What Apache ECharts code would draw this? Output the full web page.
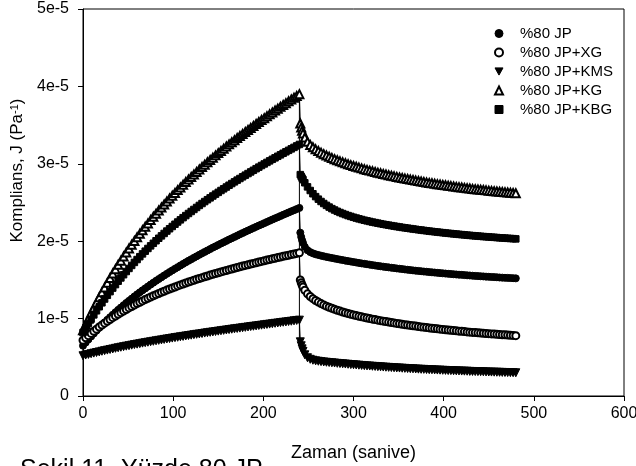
<!DOCTYPE html>
<html><head><meta charset="utf-8">
<script src="https://cdn.jsdelivr.net/npm/echarts@6/dist/echarts.min.js"></script>
<style>html,body{margin:0;padding:0;background:#fff;}#c{width:636px;height:466px;}</style>
</head><body><div id="c"></div>
<script>
// Compliance values are in units of 1e-5 Pa^-1, time in seconds
const UNIT = 1e-5;
const seriesNames = ['%80 JP', '%80 JP+XG', '%80 JP+KMS', '%80 JP+KG', '%80 JP+KBG'];
const xTicks = [0, 100, 200, 300, 400, 500, 600];
const yTicks = [0, 1, 2, 3, 4, 5];

const creepTime = [0,3,6,9,12,15,18,21,24,27,30,33,36,39,42,45,48,51,54,57,60,63,66,69,72,75,78,81,84,87,90,93,96,99,102,105,108,111,114,117,120,123,126,129,132,135,138,141,144,147,150,153,156,159,162,165,168,171,174,177,180,183,186,189,192,195,198,201,204,207,210,213,216,219,222,225,228,231,234,237,240];
const recoveryTime = [241,242,243,244,246,249,252,255,258,261,264,267,270,273,276,279,282,285,288,291,294,297,300,303,306,309,312,315,318,321,324,327,330,333,336,339,342,345,348,351,354,357,360,363,366,369,372,375,378,381,384,387,390,393,396,399,402,405,408,411,414,417,420,423,426,429,432,435,438,441,444,447,450,453,456,459,462,465,468,471,474,477,480];

const jpCreep = [0.650,0.691,0.731,0.770,0.808,0.845,0.881,0.917,0.951,0.985,1.018,1.050,1.082,1.113,1.143,1.173,1.202,1.230,1.258,1.286,1.313,1.339,1.365,1.390,1.415,1.440,1.464,1.488,1.511,1.534,1.557,1.579,1.601,1.623,1.644,1.665,1.686,1.707,1.727,1.747,1.766,1.786,1.805,1.824,1.843,1.862,1.880,1.898,1.917,1.934,1.952,1.970,1.987,2.004,2.022,2.038,2.055,2.072,2.089,2.105,2.122,2.138,2.154,2.170,2.186,2.202,2.217,2.233,2.249,2.264,2.280,2.295,2.310,2.325,2.341,2.356,2.371,2.386,2.400,2.415,2.430];
const jpRecovery = [2.110,2.055,2.012,1.978,1.928,1.884,1.859,1.843,1.831,1.822,1.813,1.805,1.797,1.790,1.783,1.776,1.769,1.762,1.756,1.749,1.743,1.737,1.731,1.725,1.719,1.713,1.708,1.702,1.697,1.691,1.686,1.681,1.676,1.671,1.666,1.662,1.657,1.653,1.648,1.644,1.640,1.635,1.631,1.627,1.623,1.619,1.616,1.612,1.608,1.605,1.601,1.598,1.595,1.591,1.588,1.585,1.582,1.579,1.576,1.573,1.570,1.567,1.565,1.562,1.559,1.557,1.554,1.552,1.549,1.547,1.545,1.542,1.540,1.538,1.536,1.534,1.531,1.529,1.527,1.526,1.524,1.522,1.520];

const xgCreep = [0.720,0.751,0.780,0.809,0.837,0.864,0.891,0.916,0.941,0.965,0.989,1.012,1.034,1.056,1.077,1.098,1.118,1.138,1.157,1.175,1.194,1.211,1.229,1.246,1.262,1.278,1.294,1.309,1.325,1.339,1.354,1.368,1.382,1.395,1.409,1.422,1.435,1.447,1.460,1.472,1.484,1.495,1.507,1.518,1.529,1.540,1.551,1.562,1.572,1.582,1.593,1.603,1.613,1.622,1.632,1.641,1.651,1.660,1.669,1.678,1.687,1.696,1.705,1.713,1.722,1.731,1.739,1.747,1.756,1.764,1.772,1.780,1.788,1.796,1.804,1.812,1.819,1.827,1.835,1.842,1.850];
const xgRecovery = [1.500,1.464,1.434,1.408,1.366,1.320,1.286,1.258,1.234,1.213,1.194,1.177,1.161,1.147,1.133,1.120,1.108,1.097,1.086,1.076,1.066,1.056,1.048,1.039,1.031,1.023,1.015,1.008,1.000,0.993,0.987,0.980,0.973,0.967,0.961,0.955,0.949,0.944,0.938,0.933,0.927,0.922,0.917,0.912,0.907,0.903,0.898,0.893,0.889,0.885,0.880,0.876,0.872,0.868,0.864,0.860,0.856,0.852,0.849,0.845,0.842,0.838,0.835,0.832,0.828,0.825,0.822,0.819,0.816,0.813,0.810,0.808,0.805,0.802,0.800,0.797,0.794,0.792,0.790,0.787,0.785,0.783,0.780];

const kmsCreep = [0.520,0.529,0.537,0.546,0.554,0.562,0.570,0.578,0.586,0.593,0.601,0.608,0.616,0.623,0.630,0.637,0.644,0.650,0.657,0.664,0.670,0.676,0.683,0.689,0.695,0.701,0.707,0.713,0.719,0.725,0.731,0.737,0.742,0.748,0.754,0.759,0.765,0.770,0.776,0.781,0.786,0.792,0.797,0.802,0.807,0.813,0.818,0.823,0.828,0.833,0.838,0.843,0.848,0.853,0.858,0.863,0.868,0.873,0.877,0.882,0.887,0.892,0.897,0.901,0.906,0.911,0.915,0.920,0.925,0.929,0.934,0.939,0.943,0.948,0.953,0.957,0.962,0.966,0.971,0.976,0.980];
const kmsRecovery = [0.700,0.649,0.609,0.577,0.532,0.494,0.474,0.462,0.454,0.449,0.444,0.440,0.436,0.433,0.429,0.426,0.422,0.419,0.416,0.413,0.410,0.406,0.404,0.401,0.398,0.395,0.392,0.389,0.387,0.384,0.382,0.379,0.377,0.374,0.372,0.370,0.368,0.365,0.363,0.361,0.359,0.357,0.355,0.353,0.351,0.349,0.347,0.345,0.344,0.342,0.340,0.339,0.337,0.335,0.334,0.332,0.331,0.329,0.328,0.326,0.325,0.324,0.322,0.321,0.320,0.318,0.317,0.316,0.315,0.314,0.313,0.311,0.310,0.309,0.308,0.307,0.306,0.305,0.304,0.303,0.302,0.301,0.300];

const kgCreep = [0.850,0.926,0.999,1.071,1.141,1.209,1.275,1.340,1.403,1.464,1.524,1.582,1.639,1.695,1.749,1.802,1.854,1.905,1.954,2.003,2.050,2.097,2.142,2.187,2.230,2.273,2.315,2.356,2.397,2.436,2.475,2.513,2.551,2.588,2.624,2.660,2.695,2.730,2.764,2.797,2.830,2.863,2.895,2.927,2.958,2.989,3.019,3.049,3.079,3.109,3.138,3.166,3.195,3.223,3.251,3.278,3.305,3.332,3.359,3.386,3.412,3.438,3.464,3.489,3.515,3.540,3.565,3.590,3.615,3.639,3.664,3.688,3.712,3.736,3.760,3.783,3.807,3.830,3.854,3.877,3.900];
const kgRecovery = [3.520,3.470,3.428,3.393,3.340,3.284,3.244,3.213,3.187,3.165,3.144,3.125,3.107,3.091,3.075,3.060,3.046,3.032,3.019,3.007,2.995,2.983,2.972,2.961,2.951,2.941,2.931,2.921,2.912,2.903,2.894,2.885,2.877,2.869,2.861,2.853,2.845,2.838,2.831,2.823,2.816,2.809,2.803,2.796,2.790,2.783,2.777,2.771,2.765,2.759,2.753,2.748,2.742,2.737,2.732,2.727,2.722,2.717,2.712,2.707,2.702,2.698,2.693,2.689,2.685,2.681,2.676,2.672,2.668,2.665,2.661,2.657,2.653,2.650,2.646,2.643,2.639,2.636,2.633,2.630,2.627,2.623,2.620];

const kbgCreep = [0.820,0.879,0.937,0.993,1.048,1.101,1.153,1.204,1.253,1.301,1.348,1.394,1.439,1.483,1.525,1.567,1.608,1.648,1.687,1.726,1.763,1.800,1.836,1.871,1.906,1.940,1.973,2.006,2.038,2.069,2.100,2.131,2.161,2.190,2.219,2.248,2.276,2.304,2.331,2.358,2.384,2.410,2.436,2.462,2.487,2.512,2.536,2.560,2.584,2.608,2.631,2.655,2.677,2.700,2.723,2.745,2.767,2.789,2.810,2.832,2.853,2.874,2.895,2.916,2.937,2.957,2.978,2.998,3.018,3.038,3.058,3.077,3.097,3.116,3.136,3.155,3.174,3.193,3.212,3.231,3.250];
const kbgRecovery = [2.860,2.837,2.815,2.795,2.755,2.702,2.655,2.613,2.576,2.543,2.513,2.487,2.463,2.441,2.421,2.403,2.386,2.371,2.357,2.344,2.331,2.320,2.309,2.299,2.289,2.280,2.271,2.263,2.255,2.247,2.240,2.233,2.226,2.219,2.213,2.207,2.201,2.195,2.189,2.184,2.178,2.173,2.168,2.163,2.158,2.153,2.148,2.144,2.139,2.135,2.130,2.126,2.122,2.118,2.114,2.110,2.106,2.102,2.099,2.095,2.092,2.088,2.085,2.082,2.078,2.075,2.072,2.069,2.066,2.063,2.060,2.058,2.055,2.052,2.050,2.047,2.044,2.042,2.040,2.037,2.035,2.033,2.030];

const captionText = 'Şekil 11. Yüzde 80 JP';

const FONT = '"Liberation Sans", Arial, sans-serif';

function pairs(times, vals) {
  const out = [];
  const n = Math.min(times.length, vals.length);
  for (let i = 0; i < n; i++) out.push([times[i], vals[i] * UNIT]);
  return out;
}

const defs = [
  { name: seriesNames[0], creep: jpCreep,  rec: jpRecovery,  symbol: 'circle',        rotate: 0,   size: 7,   legendIcon: 'circle' },
  { name: seriesNames[1], creep: xgCreep,  rec: xgRecovery,  symbol: 'emptyCircle',   rotate: 0,   size: 7,   legendIcon: 'emptyCircle' },
  { name: seriesNames[2], creep: kmsCreep, rec: kmsRecovery, symbol: 'triangle',      rotate: 180, size: 8,   legendIcon: 'path://M0,0L10,0L5,9Z' },
  { name: seriesNames[3], creep: kgCreep,  rec: kgRecovery,  symbol: 'emptyTriangle', rotate: 0,   size: 8,   legendIcon: 'emptyTriangle' },
  { name: seriesNames[4], creep: kbgCreep, rec: kbgRecovery, symbol: 'rect',          rotate: 0,   size: 6.5, legendIcon: 'rect' }
];

const series = defs.map(d => ({
  name: d.name,
  type: 'line',
  data: pairs(creepTime, d.creep).concat(pairs(recoveryTime, d.rec)),
  symbol: d.symbol,
  symbolSize: d.size,
  symbolRotate: d.rotate,
  showSymbol: true,
  showAllSymbol: true,
  lineStyle: { color: '#000', width: 1 },
  itemStyle: { color: '#000', borderColor: '#000', borderWidth: 1 },
  emphasis: { disabled: true },
  silent: true,
  z: 3
}));

// vertical line at the unloading instant
const tUnload = creepTime[creepTime.length - 1];
const jumpTop = Math.max(...defs.map(d => d.creep[d.creep.length - 1]));
const jumpBottom = Math.min(...defs.map(d => d.rec[0]));
series.push({
  name: 'unload',
  type: 'line',
  data: [[tUnload, jumpTop * UNIT], [tUnload, jumpBottom * UNIT]],
  symbol: 'none',
  lineStyle: { color: '#000', width: 1 },
  silent: true,
  z: 2
});

const chart = echarts.init(document.getElementById('c'), null, { renderer: 'canvas' });
chart.setOption({
  animation: false,
  backgroundColor: '#fff',
  grid: { left: 83, right: 12, top: 9, bottom: 70, show: true, borderColor: '#000', borderWidth: 1, containLabel: false, outerBoundsMode: 'none' },
  legend: {
    orient: 'vertical',
    left: 489, top: 21,
    itemWidth: 8, itemHeight: 8, itemGap: 4,
    selectedMode: false,
    data: defs.map(d => ({ name: d.name, icon: d.legendIcon, itemStyle: { color: '#000', borderColor: '#000', borderWidth: 1 } })),
    formatter: n => '{a|' + n + '}',
    textStyle: { color: '#000', fontFamily: FONT, fontSize: 15, rich: { a: { color: '#000', fontFamily: FONT, fontSize: 15, padding: [0, 0, 0, 12] } } }
  },
  xAxis: {
    type: 'value', min: xTicks[0], max: xTicks[xTicks.length - 1], interval: xTicks[1] - xTicks[0],
    name: 'Zaman (sanive)', nameLocation: 'middle', nameGap: 48,
    nameTextStyle: { color: '#000', fontFamily: FONT, fontSize: 18 },
    axisLine: { onZero: false, lineStyle: { color: '#000', width: 1 } },
    axisTick: { show: true, inside: false, length: 5, lineStyle: { color: '#000' } },
    axisLabel: { color: '#000', fontFamily: FONT, fontSize: 16, margin: 10 },
    splitLine: { show: false }
  },
  yAxis: {
    type: 'value', min: yTicks[0] * UNIT, max: yTicks[yTicks.length - 1] * UNIT, interval: (yTicks[1] - yTicks[0]) * UNIT,
    name: 'Komplians, J (Pa{sup|-1})', nameLocation: 'middle', nameGap: 54, nameRotate: 90,
    nameTextStyle: { color: '#000', fontFamily: FONT, fontSize: 17, padding: [0, 0, 0, 64],
      rich: { sup: { fontFamily: FONT, fontSize: 11, verticalAlign: 'top', color: '#000' } } },
    axisLine: { onZero: false, lineStyle: { color: '#000', width: 1 } },
    axisTick: { show: true, inside: false, length: 5, lineStyle: { color: '#000' } },
    axisLabel: { color: '#000', fontFamily: FONT, fontSize: 16, margin: 14,
      formatter: v => { const k = Math.round(v / UNIT); return k === 0 ? '0' : k + 'e-5'; } },
    splitLine: { show: false }
  },
  graphic: [{
    type: 'text', left: 20, top: 458, silent: true,
    style: { text: captionText, font: '25px ' + FONT, fill: '#000' }
  }],
  series: series
});
</script></body></html>
